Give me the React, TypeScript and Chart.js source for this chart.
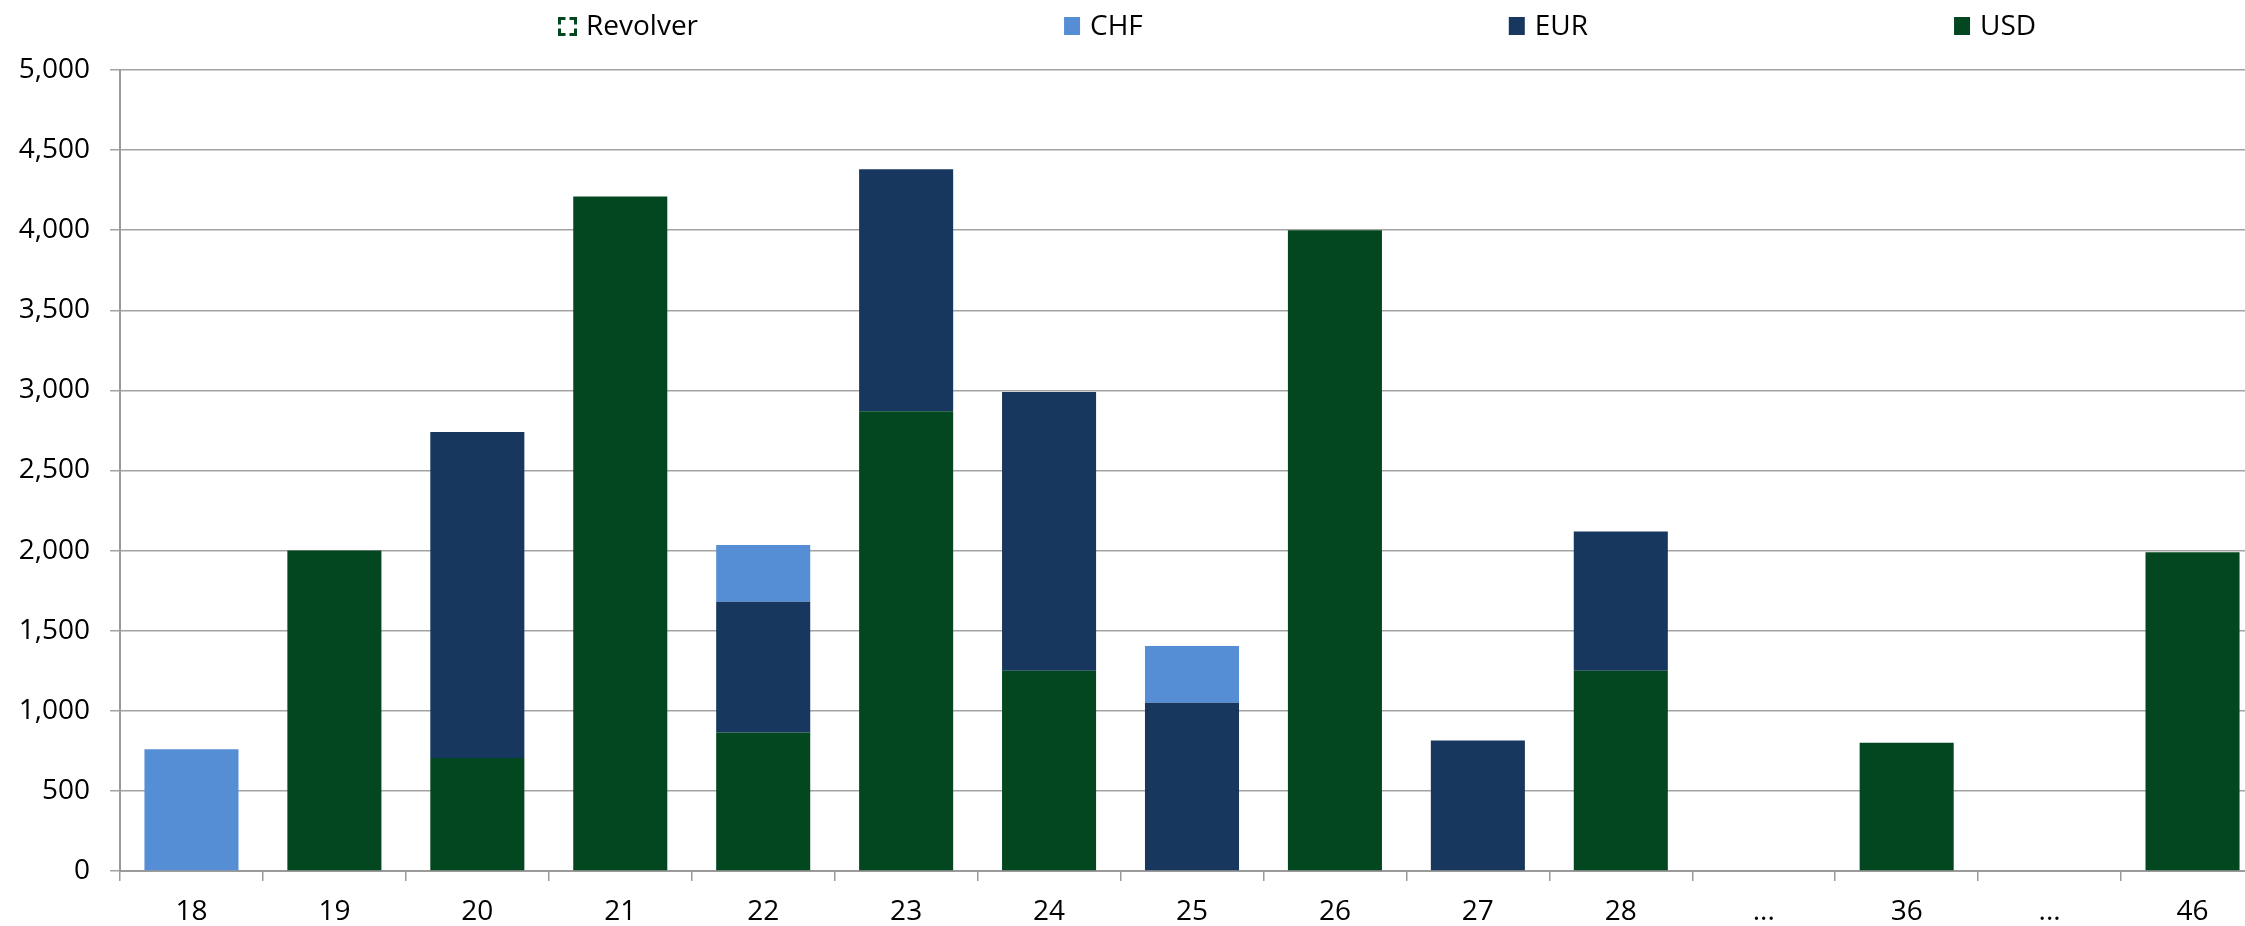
import { useEffect, useRef } from "react";
import { Chart, registerables } from "chart.js";

Chart.register(...registerables);

const categories = ["18", "19", "20", "21", "22", "23", "24", "25", "26", "27", "28", "...", "36", "...", "46"];
const usdValues = [0, 2000, 705, 4210, 865, 2870, 1250, 0, 4000, 0, 1250, 0, 800, 0, 1990];
const eurValues = [0, 0, 2035, 0, 815, 1510, 1740, 1050, 0, 815, 870, 0, 0, 0, 0];
const chfValues = [760, 0, 0, 0, 355, 0, 0, 355, 0, 0, 0, 0, 0, 0, 0];
const revolverValues = [0, 0, 0, 0, 0, 0, 0, 0, 0, 0, 0, 0, 0, 0, 0];
const yMin = 0;
const yMax = 5000;
const yStep = 500;

const COLORS = {
  usd: "#034721",
  eur: "#17375E",
  chf: "#558ED5",
  revolver: "#034721",
};

const FONT_FAMILY = "'Open Sans', 'Liberation Sans', sans-serif";

const legendPlugin = {
  id: "customLegend",
  afterDraw(chart: any) {
    const ctx = chart.ctx;
    const items = [...chart.data.datasets].reverse();
    ctx.save();
    ctx.font = `28px ${FONT_FAMILY}`;
    ctx.textBaseline = "middle";
    ctx.textAlign = "left";
    const boxW = 16;
    const boxH = 18;
    const textGap = 10;
    const itemGap = 366;
    const cy = 26;
    let x = 558;
    items.forEach((ds: any) => {
      const top = cy - boxH / 2;
      if (ds.dashedLegend) {
        // corner-bracket style dashed outline
        ctx.strokeStyle = ds.legendColor;
        ctx.lineWidth = 3;
        const l = x + 1.5;
        const r = x + boxW + 1.5;
        const t = top + 1.5;
        const b = top + boxH - 0.5;
        const c = 6;
        ctx.beginPath();
        ctx.moveTo(l, t + c); ctx.lineTo(l, t); ctx.lineTo(l + c, t);
        ctx.moveTo(r - c, t); ctx.lineTo(r, t); ctx.lineTo(r, t + c);
        ctx.moveTo(r, b - c); ctx.lineTo(r, b); ctx.lineTo(r - c, b);
        ctx.moveTo(l + c, b); ctx.lineTo(l, b); ctx.lineTo(l, b - c);
        ctx.stroke();
      } else {
        ctx.fillStyle = ds.backgroundColor;
        ctx.fillRect(x, top, boxW, boxH);
      }
      ctx.fillStyle = "#000";
      const tx = ds.dashedLegend ? x + boxW + textGap + 2 : x + boxW + textGap;
      ctx.fillText(ds.label, tx, cy + 1);
      const w = ctx.measureText(ds.label).width;
      x = tx + w + itemGap;
    });
    ctx.restore();
  },
};

export default function App() {
  const canvasRef = useRef<HTMLCanvasElement | null>(null);

  useEffect(() => {
    if (!canvasRef.current) return;
    const chart = new Chart(canvasRef.current, {
      type: "bar",
      data: {
        labels: categories,
        datasets: [
          { label: "USD", data: usdValues, backgroundColor: COLORS.usd },
          { label: "EUR", data: eurValues, backgroundColor: COLORS.eur },
          { label: "CHF", data: chfValues, backgroundColor: COLORS.chf },
          {
            label: "Revolver",
            data: revolverValues,
            backgroundColor: "rgba(0,0,0,0)",
            dashedLegend: true,
            legendColor: COLORS.revolver,
          } as any,
        ],
      },
      options: {
        responsive: false,
        animation: false,
        layout: { padding: { top: 70, left: 0, right: 0, bottom: 0 } },
        datasets: {
          bar: { barPercentage: 0.658, categoryPercentage: 1, borderWidth: 0 },
        },
        plugins: {
          legend: { display: false },
          tooltip: { enabled: false },
        },
        scales: {
          x: {
            stacked: true,
            grid: {
              display: true,
              drawOnChartArea: false,
              drawTicks: true,
              tickLength: 10,
              color: "#9a9a9a",
              lineWidth: 1.5,
              offset: true,
            },
            border: { display: true, color: "#9a9a9a", width: 2 },
            ticks: {
              color: "#000",
              font: { family: FONT_FAMILY, size: 28 },
              padding: 14,
              maxRotation: 0,
              autoSkip: false,
            },
            afterFit(scale: any) {
              scale.height = 55;
            },
          },
          y: {
            stacked: true,
            min: yMin,
            max: yMax,
            grid: {
              color: "#a3a3a3",
              lineWidth: 1.5,
              drawTicks: true,
              tickLength: 10,
            },
            border: { display: true, color: "#9a9a9a", width: 2 },
            ticks: {
              stepSize: yStep,
              color: "#000",
              font: { family: FONT_FAMILY, size: 28 },
              padding: 20,
              callback: (v: any) => Number(v).toLocaleString("en-US"),
            },
            afterFit(scale: any) {
              scale.width = 120;
            },
          },
        },
      },
      plugins: [legendPlugin],
    });
    return () => chart.destroy();
  }, []);

  return (
    <div
      style={{
        position: "fixed",
        left: 0,
        top: 0,
        width: "100vw",
        height: "100vh",
        overflow: "hidden",
        background: "#fff",
      }}
    >
      <canvas ref={canvasRef} width={2264} height={926} style={{ display: "block" }} />
    </div>
  );
}
